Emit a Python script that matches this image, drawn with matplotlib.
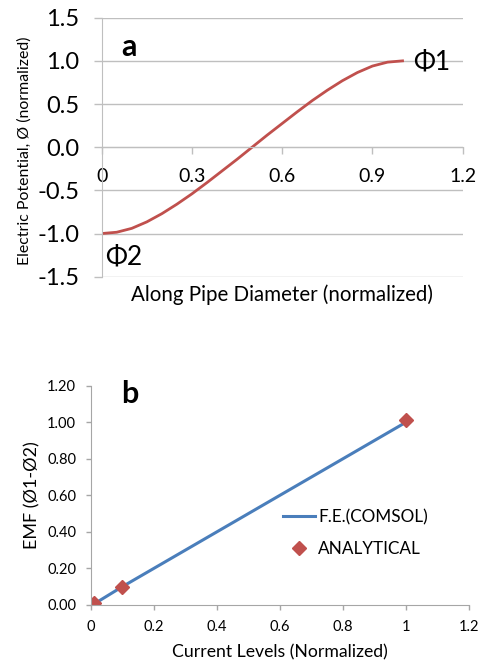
import matplotlib
matplotlib.use("Agg")
import matplotlib.pyplot as plt
from matplotlib.ticker import FuncFormatter

plt.rcParams['font.family'] = ['Lato', 'DejaVu Sans']

# panel a: potential along the pipe diameter
diam_pos = [0.0, 0.05, 0.1, 0.15, 0.2, 0.25, 0.3, 0.35, 0.4, 0.45, 0.5,
            0.55, 0.6, 0.65, 0.7, 0.75, 0.8, 0.85, 0.9, 0.95, 1.0]
potential = [-1.0, -0.985, -0.94, -0.865, -0.77, -0.66, -0.54, -0.41, -0.275, -0.14, 0.0,
             0.14, 0.275, 0.41, 0.54, 0.66, 0.77, 0.865, 0.94, 0.985, 1.0]

# panel b: EMF vs current level
fe_current = [0.01, 0.1, 1.0]
fe_emf = [0.005, 0.1, 1.0]
an_current = [0.01, 0.1, 1.0]
an_emf = [0.01, 0.1, 1.015]

RED = '#C0504D'
BLUE = '#4A7EBB'
GRID = '#BFBFBF'
AXIS = '#A6A6A6'

fig = plt.figure(figsize=(4.8, 6.62), dpi=100)

# ---- panel a ----
ax1 = fig.add_axes([101.7 / 480, 1 - 276.7 / 662, 361 / 480, 259 / 662])
ax1.plot(diam_pos, potential, color=RED, lw=2.0, solid_joinstyle='round')
ax1.set_xlim(0, 1.2)
ax1.set_ylim(-1.5, 1.5)
ax1.set_xticks([0, 0.3, 0.6, 0.9, 1.2])
ax1.set_yticks([-1.5, -1.0, -0.5, 0.0, 0.5, 1.0, 1.5])
ax1.xaxis.set_major_formatter(FuncFormatter(lambda v, p: f"{v:g}"))
ax1.yaxis.set_major_formatter(FuncFormatter(lambda v, p: f"{v:.1f}"))
ax1.grid(axis='y', color=GRID, lw=1.0)
ax1.set_axisbelow(True)
for s in ['top', 'right']:
    ax1.spines[s].set_visible(False)
ax1.spines['bottom'].set_position(('data', 0))
ax1.spines['bottom'].set_color(GRID)
ax1.spines['left'].set_color(GRID)
ax1.tick_params(axis='y', direction='out', length=6, width=1, color=GRID,
                pad=10, labelsize=17)
ax1.tick_params(axis='x', direction='out', length=5, width=1, color=GRID,
                pad=10, labelsize=14)
ax1.set_xlabel('Along Pipe Diameter (normalized)', fontsize=14.8)
ax1.xaxis.set_label_coords(0.5, (276.7 - 295) / 259)
ax1.xaxis.label.set_va('center')
ax1.set_ylabel('Electric Potential, Ø (normalized)', fontsize=11.4)
ax1.yaxis.set_label_coords((25 - 101.7) / 361, 0.486)
ax1.yaxis.label.set_va('center')

fig.text(128.8 / 480, 1 - 47 / 662, 'a', fontsize=22, fontweight='bold',
         ha='center', va='center')
fig.text(413 / 480, 1 - 62 / 662, 'Φ1', fontsize=19, ha='left', va='center')
fig.text(105 / 480, 1 - 257 / 662, 'Φ2', fontsize=19, ha='left', va='center')

# ---- panel b ----
ax2 = fig.add_axes([90.7 / 480, 1 - 605 / 662, 378.3 / 480, 219.3 / 662])
ax2.plot(fe_current, fe_emf, color=BLUE, lw=2.2, label='F.E.(COMSOL)')
ax2.plot(an_current, an_emf, ls='none', marker='D', ms=7, color=RED,
         label='ANALYTICAL')
ax2.set_xlim(0, 1.2)
ax2.set_ylim(0, 1.2)
ax2.set_xticks([0, 0.2, 0.4, 0.6, 0.8, 1.0, 1.2])
ax2.set_yticks([0, 0.2, 0.4, 0.6, 0.8, 1.0, 1.2])
ax2.xaxis.set_major_formatter(FuncFormatter(lambda v, p: f"{v:g}"))
ax2.yaxis.set_major_formatter(FuncFormatter(lambda v, p: f"{v:.2f}"))
for s in ['top', 'right']:
    ax2.spines[s].set_visible(False)
ax2.spines['bottom'].set_color(AXIS)
ax2.spines['left'].set_color(AXIS)
ax2.tick_params(axis='y', direction='out', length=3.5, width=1, color=AXIS,
                pad=7, labelsize=10.5)
ax2.tick_params(axis='x', direction='out', length=3.5, width=1, color=AXIS,
                pad=7, labelsize=10.5)
ax2.set_xlabel('Current Levels (Normalized)', fontsize=12.7)
ax2.xaxis.set_label_coords(0.5, (605 - 652) / 219.3)
ax2.xaxis.label.set_va('center')
ax2.set_ylabel('EMF (Ø1-Ø2)', fontsize=13)
ax2.yaxis.set_label_coords((32 - 90.7) / 378.3, (605 - 495) / 219.3)
ax2.yaxis.label.set_va('center')

fig.text(130 / 480, 1 - 394 / 662, 'b', fontsize=22, fontweight='bold',
         ha='center', va='center')

ax2.legend(loc='upper left', bbox_to_anchor=(283 / 480, 1 - 509 / 662),
           bbox_transform=fig.transFigure, frameon=False, fontsize=12.3,
           handlelength=1.9, handletextpad=0.15, labelspacing=0.95,
           borderpad=0, borderaxespad=0)

fig.savefig('out.png', dpi=100)
